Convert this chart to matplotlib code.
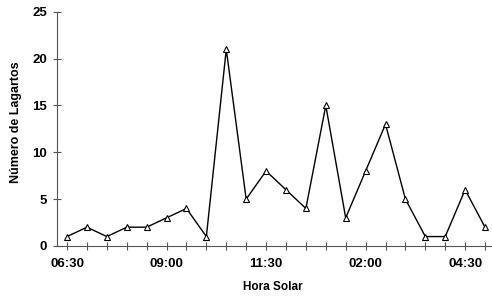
import matplotlib.pyplot as plt

plt.rcParams['font.family'] = ['Liberation Sans', 'DejaVu Sans']

# half-hour steps from 06:30 to 17:00 (solar time)
horas = ["06:30", "07:00", "07:30", "08:00", "08:30", "09:00", "09:30", "10:00",
         "10:30", "11:00", "11:30", "12:00", "12:30", "01:00", "01:30", "02:00",
         "02:30", "03:00", "03:30", "04:00", "04:30", "05:00"]
lagartos = [1, 2, 1, 2, 2, 3, 4, 1, 21, 5, 8, 6, 4, 15, 3, 8, 13, 5, 1, 1, 6, 2]
etiquetas = ["06:30", "09:00", "11:30", "02:00", "04:30"]

fig = plt.figure(figsize=(4.92, 2.97), dpi=100)
ax = fig.add_axes([0.116, 0.172, 0.884, 0.788])

x = list(range(len(horas)))
ax.plot(x, lagartos, color='black', linewidth=1.0, marker='^', markersize=4.5,
        markerfacecolor='white', markeredgecolor='black', markeredgewidth=0.8)

ax.set_xlim(-0.5, 21.35)
ax.set_ylim(0, 25)
ax.set_yticks([0, 5, 10, 15, 20, 25])
ax.set_xticks(x)
ax.set_xticklabels([h if h in etiquetas else "" for h in horas])

for s in ['top', 'right']:
    ax.spines[s].set_visible(False)
for s in ['left', 'bottom']:
    ax.spines[s].set_color('#555555')
    ax.spines[s].set_linewidth(0.8)

ax.tick_params(axis='both', direction='inout', length=6, width=0.8,
               color='#555555', labelsize=9.5)
ax.tick_params(axis='x', pad=6)
ax.tick_params(axis='y', pad=4)
for lbl in ax.get_xticklabels() + ax.get_yticklabels():
    lbl.set_fontweight('bold')

ax.set_xlabel("Hora Solar", fontsize=8.5, fontweight='bold')
ax.set_ylabel("Número de Lagartos", fontsize=9, fontweight='bold')
ax.xaxis.set_label_coords(0.497, -0.15)
ax.yaxis.set_label_coords(-0.08, 0.53)

fig.savefig("out.png", dpi=100)
